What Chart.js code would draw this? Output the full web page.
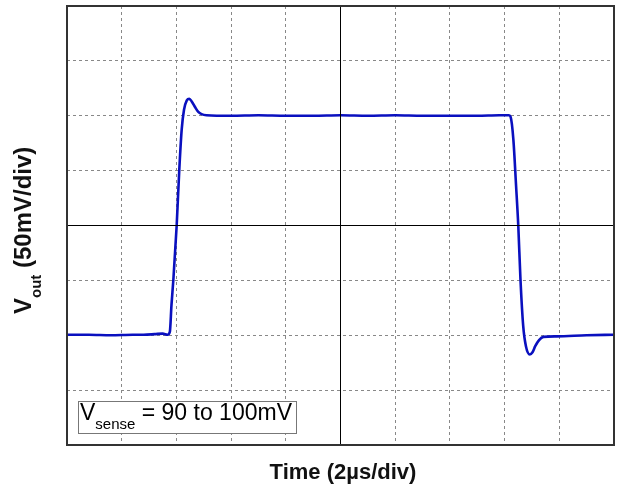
<!DOCTYPE html>
<html>
<head>
<meta charset="utf-8">
<script src="https://cdn.jsdelivr.net/npm/chart.js@4/dist/chart.umd.min.js"></script>
<style>
  html, body { margin: 0; padding: 0; background: #fff; }
  canvas { display: block; }
</style>
</head>
<body>
<canvas id="scope" width="617" height="488"></canvas>
<script>
// time in divisions (2us/div), Vout in divisions (50mV/div), centre = 0
const timeDiv = [
  0, 0.4, 0.8, 1.2, 1.4, 1.6, 1.75, 1.84, 1.88, 1.91, 1.945,
  2.005, 2.053, 2.097, 2.139, 2.19, 2.236, 2.28, 2.34, 2.40, 2.46, 2.55,
  3.0, 3.5, 4.0, 4.5, 5.0, 5.5, 6.0, 6.5, 7.0, 7.5, 7.9, 8.08,
  8.11, 8.16, 8.21, 8.25, 8.29, 8.34, 8.39, 8.46, 8.51, 8.56, 8.63, 8.71,
  8.95, 9.5, 10
];
const vout = [
  -1.99, -1.99, -2.00, -1.99, -1.99, -1.98, -1.97, -1.99, -1.94, -1.45, -0.98,
  0, 1.02, 1.75, 2.11, 2.28, 2.31, 2.26, 2.16, 2.07, 2.03, 2.01,
  2.00, 2.01, 2.00, 2.00, 2.01, 2.00, 2.01, 2.00, 2.00, 2.00, 2.01, 2.01,
  1.98, 1.57, 0.72, 0, -0.98, -1.83, -2.20, -2.35, -2.31, -2.20, -2.09, -2.03,
  -2.02, -2.00, -1.99
];
const xTitle = 'Time (2µs/div)';
const yTitle = ['V', 'out', ' (50mV/div)'];
const note = ['V', 'sense', ' = 90 to 100mV'];

const FONT = '"Liberation Sans", Arial, sans-serif';

// same pixel snapping chart.js uses for 1px grid lines
const snap = (p) => Math.round(p - 0.5) + 0.5;

const scopeDecor = {
  id: 'scopeDecor',
  beforeDatasetsDraw(chart) {
    const { ctx } = chart;
    // legend box, white filled so the grid stops at its edge
    ctx.save();
    ctx.setLineDash([]);
    ctx.fillStyle = '#fff';
    ctx.fillRect(78, 401, 218, 32);
    ctx.strokeStyle = '#777';
    ctx.lineWidth = 1;
    ctx.strokeRect(78.5, 401.5, 218, 32);
    ctx.fillStyle = '#000';
    ctx.textBaseline = 'alphabetic';
    ctx.font = '23px ' + FONT;
    let x = 80;
    ctx.fillText(note[0], x, 420);
    x += ctx.measureText(note[0]).width;
    ctx.font = '15px ' + FONT;
    ctx.fillText(note[1], x, 429);
    x += ctx.measureText(note[1]).width;
    ctx.font = '23px ' + FONT;
    ctx.fillText(note[2], x, 420);
    ctx.restore();
  },
  afterDatasetsDraw(chart) {
    const { ctx, chartArea: a, scales } = chart;
    ctx.save();
    ctx.setLineDash([]);
    // centre cross
    const cx = snap(scales.x.getPixelForValue(5));
    const cy = snap(scales.y.getPixelForValue(0));
    ctx.strokeStyle = '#000';
    ctx.lineWidth = 1;
    ctx.beginPath();
    ctx.moveTo(cx, a.top); ctx.lineTo(cx, a.bottom);
    ctx.moveTo(a.left, cy); ctx.lineTo(a.right, cy);
    ctx.stroke();
    // frame
    ctx.strokeStyle = '#333';
    ctx.lineWidth = 2;
    ctx.strokeRect(a.left, a.top, a.right - a.left, a.bottom - a.top);
    ctx.restore();
  },
  afterDraw(chart) {
    const { ctx } = chart;
    ctx.save();
    ctx.fillStyle = '#111';
    ctx.textBaseline = 'alphabetic';
    ctx.font = 'bold 22px ' + FONT;
    ctx.textAlign = 'center';
    ctx.fillText(xTitle, 343, 479);

    ctx.textAlign = 'left';
    ctx.translate(31, 314);
    ctx.rotate(-Math.PI / 2);
    let x = 0;
    ctx.font = 'bold 24px ' + FONT;
    ctx.fillText(yTitle[0], x, 0);
    x += ctx.measureText(yTitle[0]).width;
    ctx.font = 'bold 15px ' + FONT;
    ctx.fillText(yTitle[1], x, 10);
    x += ctx.measureText(yTitle[1]).width;
    ctx.font = 'bold 24px ' + FONT;
    ctx.fillText(yTitle[2], x, 0);
    ctx.restore();
  }
};

const gridStyle = { color: '#888', lineWidth: 1, drawTicks: false };

new Chart(document.getElementById('scope'), {
  type: 'line',
  data: {
    datasets: [{
      data: timeDiv.map((t, i) => ({ x: t, y: vout[i] })),
      borderColor: '#0a10bf',
      borderWidth: 2.6,
      pointRadius: 0,
      cubicInterpolationMode: 'monotone',
      fill: false,
    }],
  },
  options: {
    responsive: false,
    devicePixelRatio: 1,
    animation: false,
    layout: { padding: { left: 67, right: 3, top: 6, bottom: 43 } },
    plugins: { legend: { display: false }, tooltip: { enabled: false } },
    scales: {
      x: {
        type: 'linear', min: 0, max: 10,
        ticks: { display: false, stepSize: 1 },
        grid: gridStyle,
        border: { display: false, dash: [3, 3] },
      },
      y: {
        min: -4, max: 4,
        ticks: { display: false, stepSize: 1 },
        grid: gridStyle,
        border: { display: false, dash: [3, 3] },
      },
    },
  },
  plugins: [scopeDecor],
});
</script>
</body>
</html>
